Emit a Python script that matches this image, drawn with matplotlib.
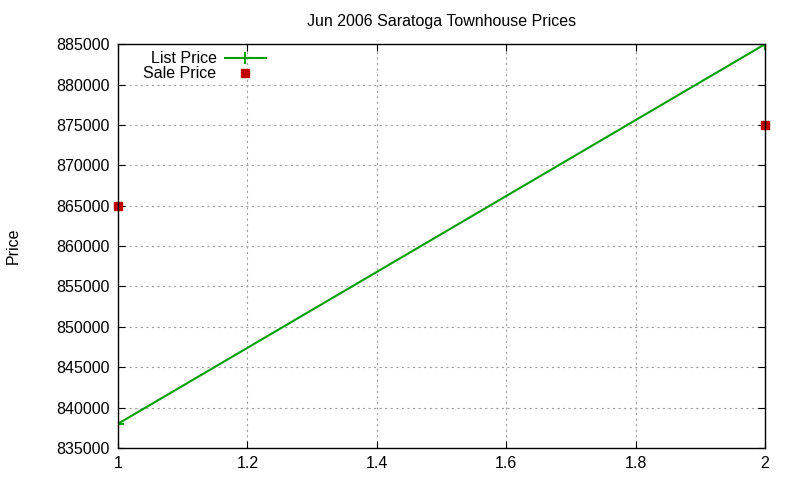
import matplotlib
matplotlib.use('Agg')
import matplotlib.pyplot as plt

plt.rcParams['font.family'] = ['Liberation Sans', 'DejaVu Sans']

x_vals = [1, 2]
list_price = [838000, 885000]
sale_price = [865000, 875000]

fig = plt.figure(figsize=(8, 4.8), dpi=100)
ax = fig.add_axes([0.1475, 0.0667, 0.8088, 0.8413])

ax.plot(x_vals, list_price, color='#00a000', lw=1.5, marker='+', ms=8, mew=1.5, label='List Price')
ax.plot(x_vals, sale_price, ls='none', color='#c00000', marker='s', ms=6, label='Sale Price', clip_on=False)

ax.set_xlim(1, 2)
ax.set_ylim(835000, 885000)
ax.set_xticks([1, 1.2, 1.4, 1.6, 1.8, 2])
ax.set_xticklabels(['1', '1.2', '1.4', '1.6', '1.8', '2'])
ax.set_yticks(range(835000, 885001, 5000))
ax.tick_params(direction='in', top=True, right=True, labelsize=11.5, length=5, pad=6)
ax.grid(True, color='#a0a0a0', ls=(0, (2, 3)), lw=0.8)
for s in ax.spines.values():
    s.set_linewidth(1)

ax.set_title('Jun 2006 Saratoga Townhouse Prices', fontsize=11.5, pad=13)
ax.set_ylabel('Price', fontsize=11.5)
ax.yaxis.set_label_coords(-0.15, 0.5)

ax.legend(loc='upper left', markerfirst=False, frameon=False, fontsize=11.5,
          bbox_to_anchor=(0.022, 1.01), handlelength=2.6, labelspacing=0.0,
          handletextpad=0.5, borderaxespad=0.3)

fig.savefig('out.png', dpi=100)
